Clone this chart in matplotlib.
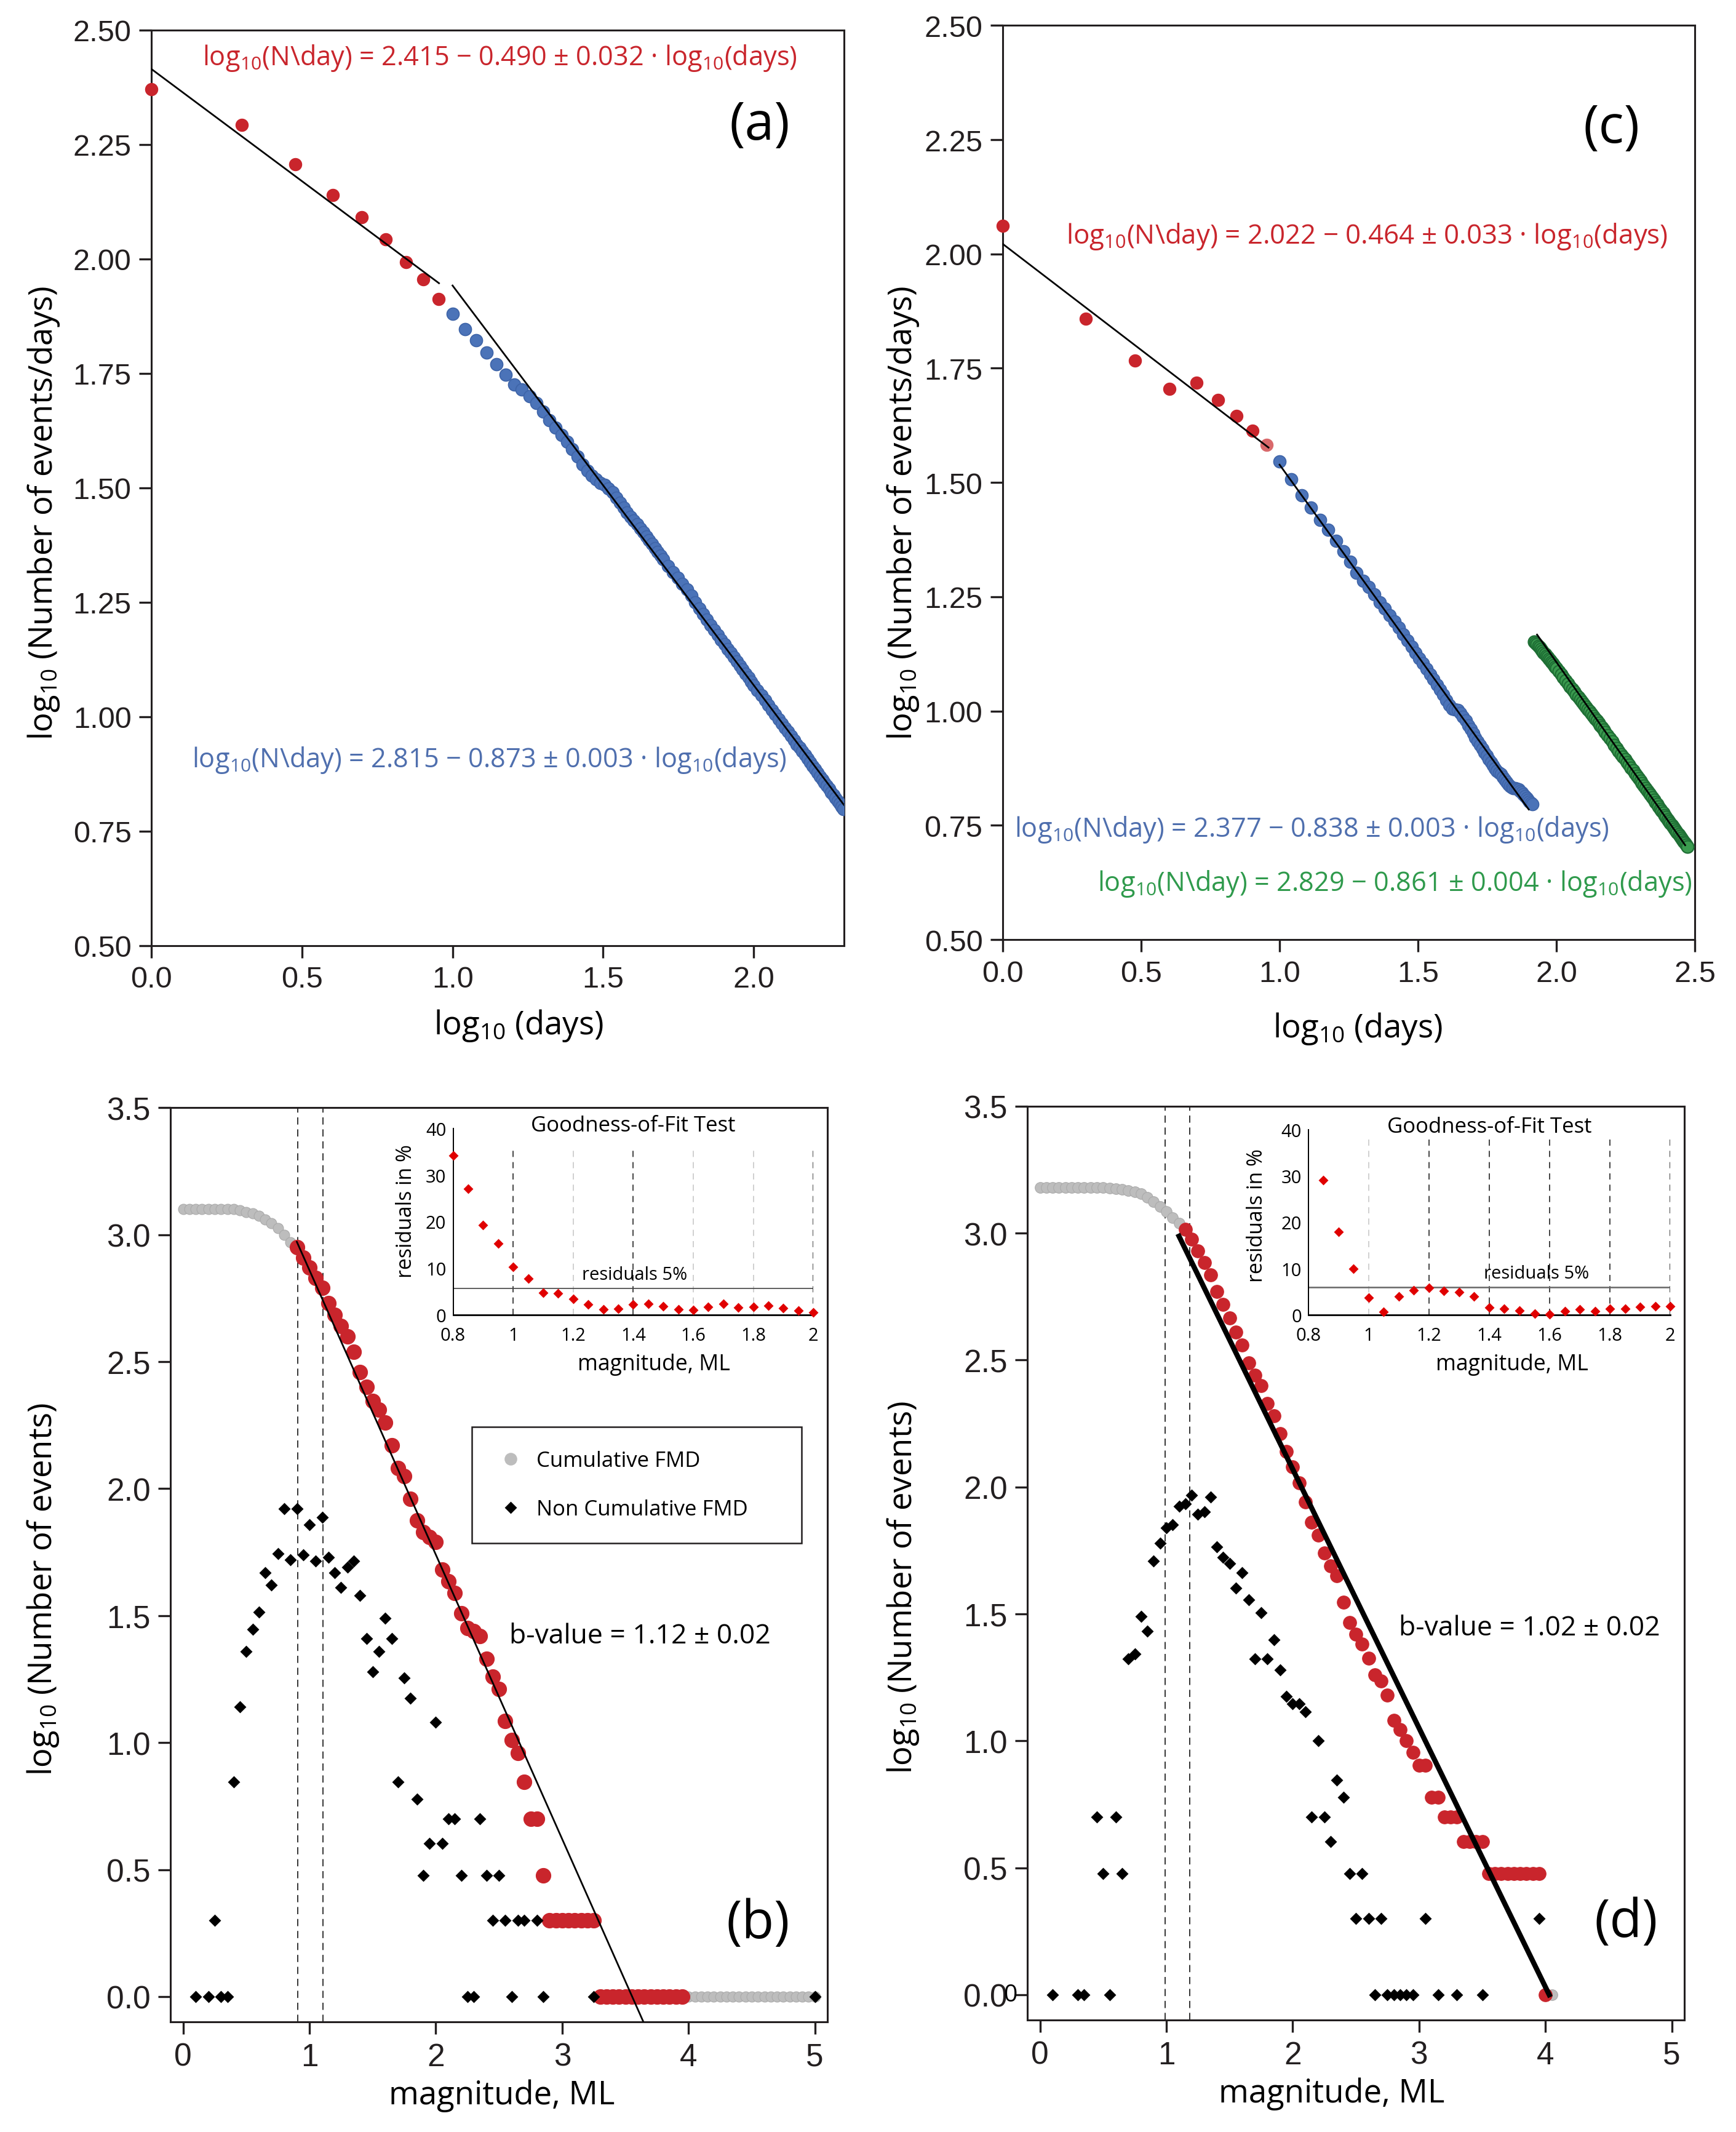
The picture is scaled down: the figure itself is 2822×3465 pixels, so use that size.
import numpy as np
import matplotlib
matplotlib.use("Agg")
import matplotlib.pyplot as plt
from matplotlib.lines import Line2D
from matplotlib.transforms import blended_transform_factory

# fonts: Open Sans stands in for Myriad, Liberation Sans for the tick numbers
plt.rcParams['font.family'] = ['Open Sans', 'DejaVu Sans']
plt.rcParams['mathtext.fontset'] = 'custom'
plt.rcParams['mathtext.rm'] = 'Open Sans'
plt.rcParams['mathtext.it'] = 'Open Sans:italic'
plt.rcParams['mathtext.bf'] = 'Open Sans:bold'

# ---------------- data: panel (a) ----------------
days_a_red = np.arange(1, 10)
rate_a_red = [2.371, 2.293, 2.207, 2.140, 2.091, 2.043, 1.993, 1.956, 1.913]
days_a_blue = np.r_[np.arange(10, 51), np.arange(52, 101, 2), np.arange(103, 200, 3)]
rate_a_blue = [1.880, 1.847, 1.823, 1.796, 1.770, 1.747, 1.725, 1.715, 1.700, 1.686,
               1.667, 1.648, 1.631, 1.615, 1.600, 1.585, 1.568, 1.551, 1.538, 1.527,
               1.519, 1.511, 1.507, 1.499, 1.490, 1.479, 1.468, 1.457, 1.446, 1.437,
               1.428, 1.420, 1.411, 1.403, 1.394, 1.386, 1.377, 1.368, 1.360, 1.352,
               1.344,
               1.329, 1.316, 1.303, 1.290, 1.278, 1.264, 1.250, 1.237, 1.224, 1.212,
               1.200, 1.189, 1.178, 1.168, 1.158, 1.148, 1.139, 1.130, 1.121, 1.112,
               1.103, 1.094, 1.086, 1.077, 1.069,
               1.058, 1.047, 1.036, 1.025, 1.015, 1.005, 0.995, 0.985, 0.976, 0.967,
               0.958, 0.949, 0.940, 0.932, 0.924, 0.916, 0.908, 0.900, 0.892, 0.885,
               0.878, 0.870, 0.863, 0.856, 0.849, 0.842, 0.835, 0.829, 0.822, 0.816,
               0.810, 0.804, 0.798]
fit_a_red = (2.415, 0.490)
fit_a_blue = (2.815, 0.873)

# ---------------- data: panel (c) ----------------
days_c_red = np.arange(1, 10)
rate_c_red = [2.062, 1.859, 1.767, 1.705, 1.718, 1.681, 1.646, 1.613, 1.582]
days_c_blue = np.arange(10, 83)
rate_c_blue = [1.546, 1.507, 1.472, 1.445, 1.418, 1.397, 1.373, 1.350, 1.327, 1.303,
               1.285, 1.272, 1.255, 1.238, 1.224, 1.210, 1.196, 1.182, 1.168, 1.154,
               1.141, 1.128, 1.116, 1.104, 1.092, 1.080, 1.069, 1.058, 1.047, 1.036,
               1.024, 1.013, 1.005, 1.004, 1.002, 0.996, 0.988, 0.979, 0.969, 0.960,
               0.951, 0.942, 0.933, 0.925, 0.917, 0.909, 0.902, 0.895, 0.888, 0.881,
               0.875, 0.869, 0.865, 0.862, 0.856, 0.850, 0.845, 0.840, 0.836, 0.833,
               0.832, 0.831, 0.830, 0.828, 0.825, 0.822, 0.818, 0.814, 0.810, 0.806,
               0.802, 0.799, 0.796]
days_c_green = np.r_[np.arange(83, 101), np.arange(102, 151, 2), np.arange(153, 298, 3)]
rate_c_green = [1.152, 1.149, 1.146, 1.142, 1.139, 1.135, 1.132, 1.128, 1.125, 1.121,
                1.118, 1.114, 1.111, 1.107, 1.104, 1.101, 1.097, 1.094,
                1.087, 1.080, 1.073, 1.067, 1.060, 1.054, 1.048, 1.042, 1.036, 1.031,
                1.025, 1.020, 1.014, 1.009, 1.004, 0.999, 0.994, 0.989, 0.984, 0.979,
                0.974, 0.969, 0.964, 0.959, 0.954,
                0.947, 0.940, 0.933, 0.926, 0.919, 0.912, 0.906, 0.900, 0.894, 0.888,
                0.882, 0.876, 0.870, 0.864, 0.858, 0.853, 0.847, 0.842, 0.837, 0.832,
                0.826, 0.821, 0.816, 0.811, 0.806, 0.801, 0.796, 0.791, 0.786, 0.782,
                0.777, 0.772, 0.768, 0.763, 0.759, 0.755, 0.750, 0.746, 0.742, 0.738,
                0.734, 0.730, 0.726, 0.722, 0.718, 0.714, 0.711, 0.707, 0.704]
fit_c_red = (2.022, 0.464)
fit_c_blue = (2.377, 0.838)
fit_c_green = (2.829, 0.861)

# ---------------- data: panel (b) ----------------
mag_b = np.round(np.arange(0, 5.001, 0.05), 2)
cum_b = [3.10, 3.10, 3.10, 3.10, 3.10, 3.10, 3.10, 3.10, 3.10, 3.095,
         3.09, 3.085, 3.075, 3.06, 3.045, 3.025, 3.00, 2.97, 2.95, 2.91,
         2.87, 2.83, 2.79, 2.73, 2.685, 2.64, 2.60, 2.54, 2.46, 2.40,
         2.345, 2.31, 2.26, 2.17, 2.08, 2.05, 1.96, 1.875, 1.83, 1.81,
         1.79, 1.68, 1.635, 1.59, 1.51, 1.45, 1.44, 1.42, 1.33, 1.26,
         1.21, 1.085, 1.01, 0.96, 0.845, 0.70, 0.70, 0.477,
         0.301, 0.301, 0.301, 0.301, 0.301, 0.301, 0.301, 0.301] + [0.0] * 35
noncum_mag_b = [0.1, 0.2, 0.25, 0.3, 0.35, 0.4, 0.45, 0.5, 0.55, 0.6, 0.65, 0.7, 0.75,
                0.8, 0.85, 0.9, 0.95, 1.0, 1.05, 1.1, 1.15, 1.2, 1.25, 1.3, 1.35, 1.4,
                1.45, 1.5, 1.55, 1.6, 1.65, 1.7, 1.75, 1.8, 1.85, 1.9, 1.95, 2.0, 2.05,
                2.1, 2.15, 2.2, 2.25, 2.3, 2.35, 2.4, 2.45, 2.5, 2.55, 2.6, 2.65, 2.7,
                2.8, 2.85, 3.25, 5.0]
noncum_b = [0, 0, 0.301, 0, 0, 0.845, 1.14, 1.36, 1.445, 1.515, 1.67, 1.62, 1.745,
            1.92, 1.72, 1.92, 1.74, 1.857, 1.715, 1.886, 1.73, 1.67, 1.61, 1.69, 1.715,
            1.58, 1.41, 1.28, 1.36, 1.49, 1.41, 0.845, 1.255, 1.175, 0.778, 0.477,
            0.602, 1.08, 0.602, 0.699, 0.699, 0.477, 0, 0, 0.699, 0.477, 0.301, 0.477,
            0.301, 0, 0.301, 0.301, 0.301, 0, 0, 0]
mc_b = (0.9, 3.95)           # red part of the cumulative curve
fit_b = (3.98, 1.12)
vlines_b = [0.905, 1.105]
res_mag_b = np.round(np.arange(0.8, 2.001, 0.05), 2)
res_b = [34.2, 27.1, 19.25, 15.3, 10.3, 7.8, 4.75, 4.6, 3.4, 2.2, 1.2, 1.3, 2.2,
         2.3, 1.85, 1.1, 0.97, 1.67, 2.3, 1.5, 1.67, 1.9, 1.45, 0.9, 0.5]
res_line_b = 5.7

# ---------------- data: panel (d) ----------------
mag_d = np.round(np.arange(0, 4.051, 0.05), 2)
cum_d = [3.18] * 11 + [3.178, 3.175, 3.172, 3.168, 3.163, 3.155, 3.142, 3.125, 3.105,
                       3.085, 3.06, 3.04,
                       3.015, 2.975, 2.93, 2.885, 2.835, 2.77, 2.72, 2.665, 2.61, 2.56,
                       2.49, 2.44, 2.40, 2.33, 2.28, 2.21, 2.14, 2.08, 2.015, 1.94,
                       1.86, 1.81, 1.74, 1.69, 1.65, 1.545, 1.465, 1.42, 1.38, 1.325,
                       1.26, 1.235, 1.18, 1.08, 1.045, 1.0, 0.955, 0.903, 0.903, 0.778,
                       0.778, 0.699, 0.699, 0.699, 0.602, 0.602, 0.602, 0.602,
                       0.477, 0.477, 0.477, 0.477, 0.477, 0.477, 0.477, 0.477, 0.477,
                       0.0, 0.0]
noncum_mag_d = [0.1, 0.3, 0.35, 0.45, 0.5, 0.55, 0.6, 0.65, 0.7, 0.75, 0.8, 0.85, 0.9,
                0.95, 1.0, 1.05, 1.1, 1.15, 1.2, 1.25, 1.3, 1.35, 1.4, 1.45, 1.5, 1.55,
                1.6, 1.65, 1.7, 1.75, 1.8, 1.85, 1.9, 1.95, 2.0, 2.05, 2.1, 2.15, 2.2,
                2.25, 2.3, 2.35, 2.4, 2.45, 2.5, 2.55, 2.6, 2.65, 2.7, 2.75, 2.8, 2.85,
                2.9, 2.95, 3.05, 3.15, 3.3, 3.5, 3.95]
noncum_d = [0, 0, 0, 0.699, 0.477, 0, 0.699, 0.477, 1.322, 1.342, 1.491, 1.431, 1.708,
            1.778, 1.839, 1.851, 1.924, 1.934, 1.968, 1.892, 1.903, 1.96, 1.763, 1.724,
            1.699, 1.602, 1.663, 1.556, 1.322, 1.505, 1.322, 1.398, 1.279, 1.176, 1.146,
            1.146, 1.114, 0.699, 1.0, 0.699, 0.602, 0.845, 0.778, 0.477, 0.301, 0.477,
            0.301, 0, 0.301, 0, 0, 0, 0, 0, 0.301, 0, 0, 0, 0.301]
mc_d = (1.15, 4.0)
fit_d = (4.11, 1.02)
vlines_d = [0.99, 1.185]
res_mag_d = np.round(np.arange(0.85, 2.001, 0.05), 2)
res_d = [29.1, 17.9, 9.9, 3.7, 0.67, 3.9, 5.3, 5.8, 5.1, 4.9, 3.9, 1.6, 1.33, 0.9,
         0.27, 0.13, 0.8, 1.16, 0.8, 1.33, 1.33, 1.7, 1.8, 1.9]
res_line_d = 6.0

# ---------------- colours ----------------
RED = '#c9252c'
BLUE = '#4b73b8'
GREEN = '#3b9b4f'
GREY = '#bdbdbd'
INK = '#231f20'


def style_main(ax, fs):
    for s in ax.spines.values():
        s.set_linewidth(1.1)
        s.set_color(INK)
    ax.tick_params(direction='out', length=7.2, width=1.2, pad=4.5, labelsize=fs,
                   colors=INK, labelfontfamily='Liberation Sans')


def fit_line(ax, fit, x0, x1, lw=1.0):
    xs = np.array([x0, x1])
    ax.plot(xs, fit[0] - fit[1] * xs, color='black', lw=lw, zorder=5)


fig = plt.figure(figsize=(14.11, 17.33), dpi=200)
ax_a = fig.add_axes([0.0872, 0.5563, 0.3990, 0.4293])
ax_c = fig.add_axes([0.5776, 0.5591, 0.3987, 0.4287])
ax_b = fig.add_axes([0.0982, 0.0516, 0.3785, 0.4287])
ax_d = fig.add_axes([0.5918, 0.0525, 0.3785, 0.4285])

eq = "log$_{10}$(N\\day) = %s \u2212 %s \u00b1 %s \u00b7 log$_{10}$(days)"

# ---------------- (a) ----------------
ax = ax_a
ax.scatter(np.log10(days_a_red), rate_a_red, s=52, c=RED, edgecolors=RED, linewidths=0.5,
           zorder=3, clip_on=False)
ax.scatter(np.log10(days_a_blue), rate_a_blue, s=52, c=BLUE, edgecolors='#3e64a8',
           linewidths=0.6, zorder=3)
fit_line(ax, fit_a_red, 0.0, 0.955)
fit_line(ax, fit_a_blue, 1.0, 2.3)
ax.set_xlim(0, 2.3)
ax.set_ylim(0.5, 2.5)
ax.set_xticks([0.0, 0.5, 1.0, 1.5, 2.0])
ax.set_xticklabels(['0.0', '0.5', '1.0', '1.5', '2.0'])
ax.set_yticks(np.arange(0.5, 2.51, 0.25))
ax.set_yticklabels(['%.2f' % v for v in np.arange(0.5, 2.51, 0.25)])
style_main(ax, 17.5)
ax.set_xlabel('log$_{10}$ (days)', fontsize=19)
ax.set_ylabel('log$_{10}$ (Number of events/days)', fontsize=19)
ax.xaxis.set_label_coords(0.53, -0.067)
ax.yaxis.set_label_coords(-0.13, 0.473)
ax.text(0.17, 2.44, eq % ('2.415', '0.490', '0.032'), color=RED, fontsize=15.6,
        ha='left', va='center')
ax.text(0.135, 0.906, eq % ('2.815', '0.873', '0.003'), color='#4f6fae', fontsize=15.6,
        ha='left', va='center')
ax.text(2.02, 2.292, '(a)', fontsize=31, ha='center', va='center')

# ---------------- (c) ----------------
ax = ax_c
ax.scatter(np.log10(days_c_red[:-1]), rate_c_red[:-1], s=52, c=RED, edgecolors=RED,
           linewidths=0.5, zorder=3, clip_on=False)
ax.scatter(np.log10(days_c_red[-1:]), rate_c_red[-1:], s=52, c='#d9696b',
           edgecolors='#d9696b', linewidths=0.5, zorder=3)
ax.scatter(np.log10(days_c_blue), rate_c_blue, s=52, c=BLUE, edgecolors='#3e64a8',
           linewidths=0.6, zorder=3)
ax.scatter(np.log10(days_c_green), rate_c_green, s=52, c=GREEN, edgecolors='#1f6f35',
           linewidths=0.8, zorder=3)
fit_line(ax, fit_c_red, 0.0, 0.96)
fit_line(ax, fit_c_blue, 1.0, 1.90)
fit_line(ax, fit_c_green, 1.93, 2.465)
ax.set_xlim(0, 2.5)
ax.set_ylim(0.5, 2.5)
ax.set_xticks([0.0, 0.5, 1.0, 1.5, 2.0, 2.5])
ax.set_xticklabels(['0.0', '0.5', '1.0', '1.5', '2.0', '2.5'])
ax.set_yticks(np.arange(0.5, 2.51, 0.25))
ax.set_yticklabels(['%.2f' % v for v in np.arange(0.5, 2.51, 0.25)])
style_main(ax, 17.5)
ax.set_xlabel('log$_{10}$ (days)', fontsize=19)
ax.set_ylabel('log$_{10}$ (Number of events/days)', fontsize=19)
ax.xaxis.set_label_coords(0.513, -0.077)
ax.yaxis.set_label_coords(-0.118, 0.467)
ax.text(0.23, 2.04, eq % ('2.022', '0.464', '0.033'), color=RED, fontsize=15.8,
        ha='left', va='center')
ax.text(0.042, 0.742, eq % ('2.377', '0.838', '0.003'), color='#4f6fae', fontsize=15.6,
        ha='left', va='center')
ax.text(2.49, 0.623, eq % ('2.829', '0.861', '0.004'), color='#2f9a4c', fontsize=15.6,
        ha='right', va='center')
ax.text(2.20, 2.274, '(c)', fontsize=31, ha='center', va='center')


# ---------------- (b) and (d) main panels ----------------
def fmd_panel(ax, mag, cum, mc, nc_mag, nc, fit, fit_x, fit_lw, vls, bval, bpos, letter,
              lpos, s_red, s_grey):
    mag = np.asarray(mag)
    cum = np.asarray(cum)
    red = (mag >= mc[0] - 1e-9) & (mag <= mc[1] + 1e-9)
    ax.scatter(mag[~red], cum[~red], s=s_grey, c=GREY, edgecolors='#aaaaaa',
               linewidths=0.4, zorder=3)
    ax.scatter(mag[red], cum[red], s=s_red, c=RED, edgecolors=RED, linewidths=0.4,
               zorder=3)
    ax.plot(nc_mag, nc, ls='none', marker='D', ms=4.0, color='black', zorder=6)
    fit_line(ax, fit, fit_x[0], fit_x[1], lw=fit_lw)
    for v in vls:
        ax.axvline(v, color='#333333', lw=0.7, ls=(0, (6, 4)), zorder=2)
    ax.set_xlim(-0.1, 5.1)
    ax.set_ylim(-0.1, 3.5)
    ax.set_xticks([0, 1, 2, 3, 4, 5])
    ax.set_yticks(np.arange(0, 3.51, 0.5))
    ax.set_yticklabels(['%.1f' % v for v in np.arange(0, 3.51, 0.5)])
    style_main(ax, 18.5)
    ax.set_xlabel('magnitude, ML', fontsize=19)
    ax.set_ylabel('log$_{10}$ (Number of events)', fontsize=19)
    ax.text(bpos[0], bpos[1], bval, fontsize=16, ha='left', va='center')
    ax.text(lpos[0], lpos[1], letter, fontsize=31, ha='center', va='center')


fmd_panel(ax_b, mag_b, cum_b, mc_b, noncum_mag_b, noncum_b, fit_b, (0.9, 3.7), 1.0,
          vlines_b, 'b-value = 1.12 \u00b1 0.02', (2.58, 1.42), '(b)', (4.55, 0.286),
          75, 37)
ax_b.xaxis.set_label_coords(0.504, -0.062)
ax_b.yaxis.set_label_coords(-0.167, 0.474)

fmd_panel(ax_d, mag_d, cum_d, mc_d, noncum_mag_d, noncum_d, fit_d, (1.1, 4.03), 3.0,
          vlines_d, 'b-value = 1.02 \u00b1 0.02', (2.84, 1.445), '(d)', (4.64, 0.284),
          60, 40)
ax_d.xaxis.set_label_coords(0.463, -0.062)
ax_d.yaxis.set_label_coords(-0.162, 0.474)
# stray small "0" that sits right after the 0.0 tick label in the original
ax_d.text(-0.015, 0.0, '0', transform=blended_transform_factory(ax_d.transAxes, ax_d.transData),
          ha='right', va='center', fontsize=14, color='black', clip_on=False)

handles = [Line2D([], [], ls='none', marker='o', ms=6.4, mfc=GREY, mec=GREY),
           Line2D([], [], ls='none', marker='D', ms=4.0, color='black')]
leg = ax_b.legend(handles, ['Cumulative FMD', 'Non Cumulative FMD'], loc='upper left',
                  bbox_to_anchor=(0.459, 0.651, 0.501, 0.0), mode='expand', fontsize=12.5,
                  frameon=True, fancybox=False, edgecolor=INK, framealpha=1,
                  borderpad=1.1, labelspacing=1.3, handlelength=1.4, handletextpad=0.5,
                  borderaxespad=0)
leg.get_frame().set_linewidth(0.9)


# ---------------- insets ----------------
def inset(rect, mags, res, dark, light, top, hline, hcol, hlw, rpos, ycoord, xcoord):
    ins = fig.add_axes(rect)
    ins.set_facecolor('white')
    ins.set_xlim(0.8, 2.0)
    ins.set_ylim(0, 40)
    ins.spines['top'].set_visible(False)
    ins.spines['right'].set_visible(False)
    ins.spines['left'].set_linewidth(0.7)
    ins.spines['bottom'].set_linewidth(1.0)
    for v in dark:
        ins.plot([v, v], [0, top], color='#222222', lw=0.6, ls=(0, (6, 5)))
    for v in light:
        ins.plot([v, v], [0, top], color='#c8c8c8', lw=0.6, ls=(0, (6, 5)))
    ins.plot([0.8, 2.0], [hline, hline], color=hcol, lw=hlw)
    ins.plot(mags, res, ls='none', marker='D', ms=3.2, color='#e00000', clip_on=False,
             zorder=4)
    ins.set_xticks([0.8, 1.0, 1.2, 1.4, 1.6, 1.8, 2.0])
    ins.set_xticklabels(['0.8', '1', '1.2', '1.4', '1.6', '1.8', '2'])
    ins.set_yticks([0, 10, 20, 30, 40])
    ins.tick_params(length=0, labelsize=10.5, colors='black')
    ins.tick_params(axis='x', pad=7)
    ins.tick_params(axis='y', pad=4)
    ins.text(0.5, 1.017, 'Goodness-of-Fit Test', transform=ins.transAxes, ha='center',
             va='center', fontsize=12.5)
    ins.text(rpos[0], rpos[1], 'residuals 5%', ha='center', va='center', fontsize=10.5)
    ins.set_ylabel('residuals in %', fontsize=12.2)
    ins.yaxis.set_label_coords(ycoord[0], ycoord[1])
    ins.set_xlabel('magnitude, ML', fontsize=12.8)
    ins.xaxis.set_label_coords(xcoord[0], xcoord[1])
    return ins


inset([0.2610, 0.3832, 0.2075, 0.0874], res_mag_b, res_b, [1.0, 1.4, 2.0],
      [1.2, 1.6, 1.8], 36, res_line_b, '#444444', 0.6, (1.405, 8.6),
      (-0.102, 0.56), (0.558, -0.205))
inset([0.7537, 0.3832, 0.2084, 0.0868], res_mag_d, res_d, [1.2, 1.4, 1.6, 1.8, 2.0],
      [1.0], 38, res_line_d, '#666666', 0.9, (1.557, 9.0),
      (-0.113, 0.54), (0.562, -0.205))

fig.savefig('out.png', dpi=200)
